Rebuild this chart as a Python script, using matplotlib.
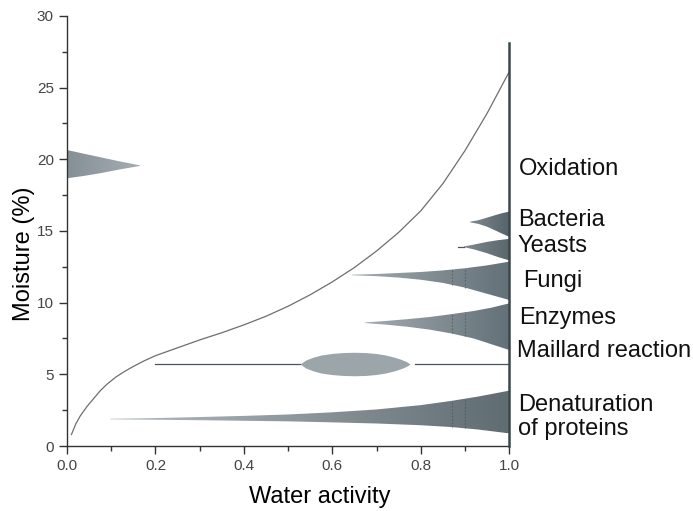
import numpy as np
import matplotlib
matplotlib.use('Agg')
import matplotlib.pyplot as plt
from matplotlib.patches import Polygon

plt.rcParams['font.family'] = ['Liberation Sans', 'DejaVu Sans']

# SORPTION ISOTHERM
iso_aw = [0.01, 0.02, 0.03, 0.045, 0.06, 0.075, 0.09, 0.11, 0.13, 0.15, 0.175,
          0.2, 0.25, 0.3, 0.35, 0.4, 0.45, 0.5, 0.55, 0.6, 0.65, 0.7, 0.75,
          0.8, 0.85, 0.9, 0.95, 1.0]
iso_moist = [0.8, 1.55, 2.1, 2.75, 3.3, 3.85, 4.3, 4.8, 5.2, 5.55, 5.95,
             6.3, 6.85, 7.4, 7.9, 8.45, 9.05, 9.75, 10.55, 11.45, 12.45, 13.6, 14.9,
             16.4, 18.3, 20.6, 23.2, 26.1]

# reaction zones: aw along the edge, upper edge, lower edge
bact_aw = [0.912, 0.93, 0.95, 0.97, 0.985, 1.0]
bact_top = [15.65, 15.75, 15.93, 16.12, 16.25, 16.35]
bact_bot = [15.6, 15.5, 15.3, 15.02, 14.8, 14.6]

yeast_aw = [0.897, 0.92, 0.95, 0.975, 1.0]
yeast_top = [13.92, 14.05, 14.24, 14.36, 14.45]
yeast_bot = [13.88, 13.72, 13.45, 13.18, 12.95]

fungi_aw = [0.644, 0.7, 0.75, 0.8, 0.85, 0.9, 0.95, 1.0]
fungi_top = [11.95, 12.0, 12.07, 12.14, 12.25, 12.4, 12.6, 12.86]
fungi_bot = [11.91, 11.85, 11.75, 11.6, 11.38, 11.05, 10.62, 10.19]

enz_aw = [0.674, 0.72, 0.77, 0.82, 0.87, 0.92, 0.96, 1.0]
enz_top = [8.62, 8.72, 8.85, 9.0, 9.2, 9.42, 9.65, 9.95]
enz_bot = [8.58, 8.47, 8.32, 8.12, 7.85, 7.5, 7.1, 6.7]

denat_aw = [0.097, 0.2, 0.3, 0.4, 0.5, 0.6, 0.7, 0.8, 0.87, 0.93, 1.0]
denat_top = [1.9, 1.95, 2.02, 2.1, 2.2, 2.35, 2.55, 2.85, 3.15, 3.45, 3.86]
denat_bot = [1.86, 1.83, 1.8, 1.76, 1.72, 1.65, 1.57, 1.45, 1.32, 1.15, 0.88]

oxid_aw = [0.0, 0.04, 0.075, 0.12, 0.165]
oxid_top = [20.65, 20.38, 20.15, 19.85, 19.58]
oxid_bot = [18.68, 18.85, 19.03, 19.3, 19.54]

maill_aw = [0.527, 0.54, 0.557, 0.575, 0.6, 0.625, 0.65, 0.675, 0.7, 0.72,
            0.74, 0.755, 0.768, 0.776]
maill_top = [5.72, 6.0, 6.2, 6.35, 6.46, 6.52, 6.54, 6.52, 6.45, 6.35,
             6.2, 6.05, 5.88, 5.72]
maill_bot = [5.72, 5.44, 5.24, 5.09, 4.98, 4.92, 4.9, 4.92, 4.99, 5.09,
             5.24, 5.39, 5.56, 5.72]
maill_level = 5.72
maill_line_aw = [(0.2, 0.527), (0.787, 1.0)]

yeast_line_aw = [0.885, 0.897]
yeast_line_y = 13.9

dotted_aw = [0.87, 0.9]

labels = ['Oxidation', 'Bacteria', 'Yeasts', 'Fungi', 'Enzymes',
          'Maillard reaction', 'Denaturation', 'of proteins']
label_aw = [1.021, 1.02, 1.02, 1.032, 1.023, 1.017, 1.021, 1.02]
label_y = [18.9, 15.35, 13.56, 11.07, 8.51, 6.19, 2.46, 0.77]

fig = plt.figure(figsize=(6.93, 5.11), dpi=100)
ax = fig.add_axes([0.0967, 0.1272, 0.638, 0.8415])
ax.set_xlim(0, 1)
ax.set_ylim(0, 30)


def wedge(aw, top, bot, c_tip, c_base, z=2):
    # polygon outline, filled with a horizontal grey gradient
    xs = list(aw) + list(aw[::-1])
    ys = list(top) + list(bot[::-1])
    poly = Polygon(np.column_stack([xs, ys]), closed=True, facecolor='none',
                   edgecolor='none', transform=ax.transData)
    ax.add_patch(poly)
    grad = np.linspace(0, 1, 256).reshape(1, -1)
    if aw[0] > aw[-1]:
        grad = grad[:, ::-1]
    cmap = matplotlib.colors.LinearSegmentedColormap.from_list('w', [c_tip, c_base])
    im = ax.imshow(grad, extent=[min(aw), max(aw), min(bot), max(top)],
                   aspect='auto', cmap=cmap, origin='lower', zorder=z,
                   interpolation='bilinear')
    im.set_clip_path(poly)


wedge(bact_aw, bact_top, bact_bot, '#7f898f', '#56636a')
wedge(yeast_aw, yeast_top, yeast_bot, '#7f898f', '#59666c')
wedge(fungi_aw, fungi_top, fungi_bot, '#a3abb0', '#627077')
wedge(enz_aw, enz_top, enz_bot, '#a3abb0', '#627077')
wedge(denat_aw, denat_top, denat_bot, '#b5bcc0', '#5f6c72')
wedge(oxid_aw[::-1], oxid_top[::-1], oxid_bot[::-1], '#a4adb2', '#859096')
ax.fill_between(maill_aw, maill_bot, maill_top, color='#9ca5aa', lw=0, zorder=2)

# thin lines
for a0, a1 in maill_line_aw:
    ax.plot([a0, a1], [maill_level, maill_level], color='#4a555b', lw=0.9, zorder=3)
ax.plot(yeast_line_aw, [yeast_line_y] * 2, color='#4a555b', lw=0.9, zorder=3)

# dotted streaks inside the big wedges
for xa in dotted_aw:
    for aw, top, bot in [(fungi_aw, fungi_top, fungi_bot),
                         (enz_aw, enz_top, enz_bot),
                         (denat_aw, denat_top, denat_bot)]:
        t = np.interp(xa, aw, top)
        b = np.interp(xa, aw, bot)
        ax.plot([xa, xa], [b, t], color='#4a555b', lw=0.8, ls=(0, (1.5, 1.5)),
                alpha=0.7, zorder=3)

# isotherm
ax.plot(iso_aw, iso_moist, color='#6e6e6e', lw=0.9, zorder=4)

# aw = 1 line
ax.plot([1.0, 1.0], [0, 28.1], color='#3a474d', lw=1.8, zorder=5, clip_on=False)

for txt, xa, ya in zip(labels, label_aw, label_y):
    ax.text(xa, ya, txt, fontsize=17, ha='left', va='baseline',
            clip_on=False, color='#111111')

# axes styling
for s in ['top', 'right']:
    ax.spines[s].set_visible(False)
for s in ['left', 'bottom']:
    ax.spines[s].set_color('#333333')
    ax.spines[s].set_linewidth(1.0)

ax.set_xticks(np.arange(0, 1.01, 0.2))
ax.set_xticks(np.arange(0.1, 1.0, 0.2), minor=True)
ax.set_yticks(np.arange(0, 31, 5))
ax.set_yticks(np.arange(2.5, 30, 5), minor=True)
ax.set_xticklabels([f'{v:.1f}' for v in np.arange(0, 1.01, 0.2)])
ax.tick_params(which='major', direction='out', length=6, width=1,
               color='#333333', labelsize=11, labelcolor='#444444')
ax.tick_params(which='minor', direction='out', length=3.5, width=1, color='#333333')

ax.set_xlabel('Water activity', fontsize=17)
ax.set_ylabel('Moisture (%)', fontsize=17)
ax.xaxis.set_label_coords(0.572, -0.093)
ax.yaxis.set_label_coords(-0.072, 0.447)

plt.savefig('out.png', dpi=100)
